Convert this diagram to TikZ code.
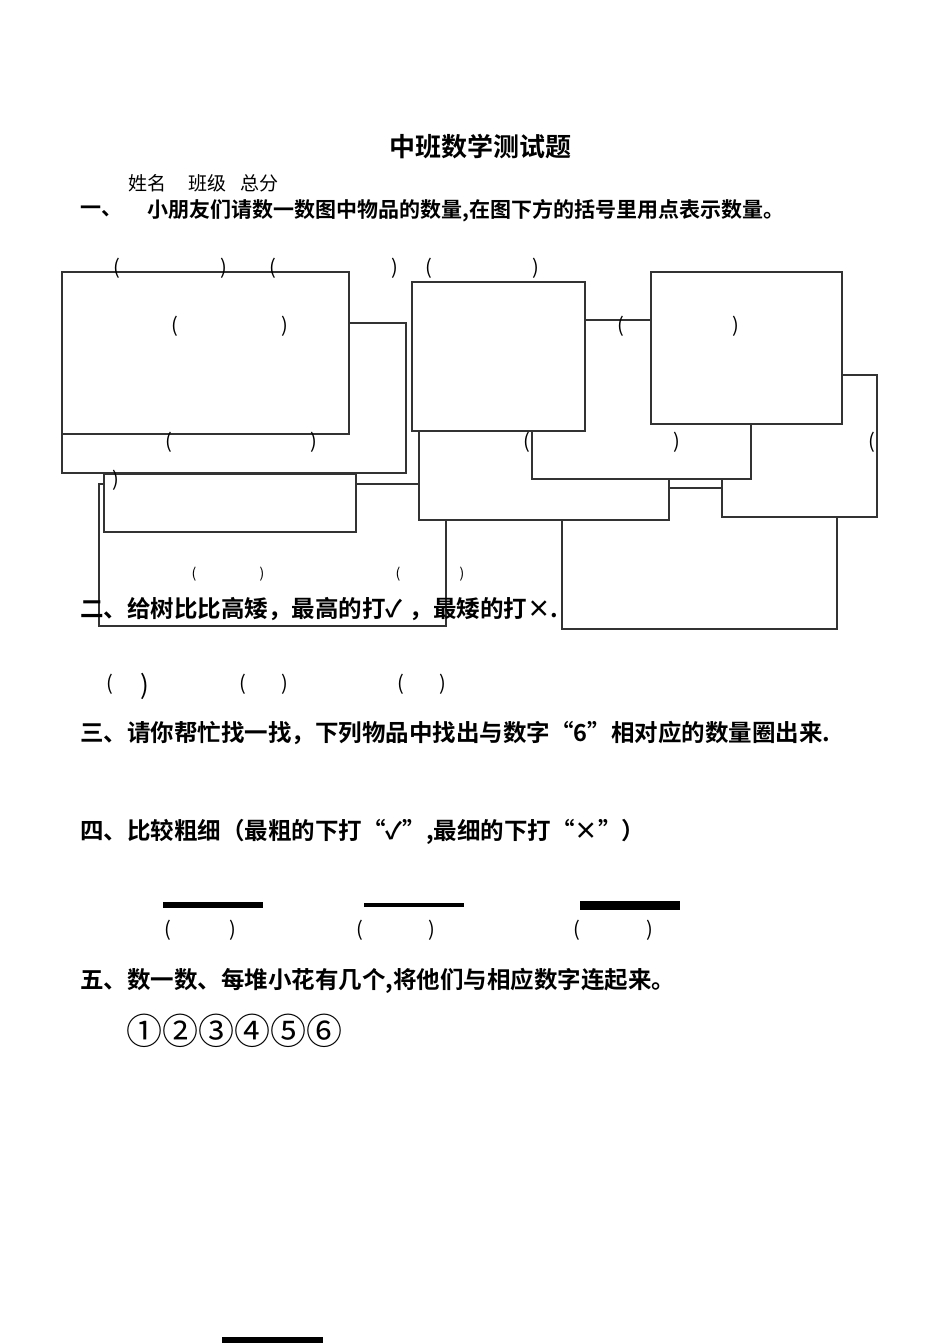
\documentclass[tikz,border=0pt]{standalone}
\usepackage{fontspec}
\setmainfont{Noto Sans CJK SC}
\newfontfamily\cjkb{Noto Sans CJK SC Bold}
\begin{document}
\begin{tikzpicture}[x=1pt,y=-1pt,
  box/.style={draw=black!80,line width=1.2pt,fill=white},
  par/.style={inner sep=0pt,font=\fontsize{20}{20}\selectfont},
  spar/.style={inner sep=0pt,font=\fontsize{14}{14}\selectfont},
  line/.style={anchor=west,inner sep=0pt,font=\cjkb\fontsize{23.5}{23.5}\selectfont}]
\useasboundingbox[fill=white] (0,0) rectangle (950,1344);
% left group
\draw[box] (99,484) rectangle (446,626);
\draw[box] (104,474) rectangle (356,532);
\draw[box] (62,323) rectangle (406,473);
\draw[box] (62,272) rectangle (349,434);
% right group
\draw[box] (562,488) rectangle (837,629);
\draw[box] (419,320) rectangle (669,520);
\draw[box] (722,375) rectangle (877,517);
\fill[white] (532,400) rectangle (751,479);
\draw[draw=black!80,line width=1.2pt] (532,400) -- (532,479) -- (751,479) -- (751,400);
\draw[box] (412,282) rectangle (585,431);
\draw[box] (651,272) rectangle (842,424);
% texts
\node[inner sep=0pt,font=\cjkb\fontsize{26}{26}\selectfont] (title) at (480,147) {中班数学测试题};
\node[anchor=west,inner sep=0pt,font=\fontsize{19}{19}\selectfont] (name) at (128,183) {姓名\hspace{1.2em}班级\hspace{0.7em}总分};
\node[line,font=\cjkb\fontsize{21}{21}\selectfont] (q1a) at (80,211) {一、};
\node[line,font=\cjkb\fontsize{21}{21}\selectfont] (q1) at (147,211) {小朋友们请数一数图中物品的数量,在图下方的括号里用点表示数量。};
\foreach \x/\y/\c [count=\i] in {117/268/(,224/268/),273/268/(,395/268/),429/268/(,536/268/),
  175/326/(,285/326/),621/326/(,736/326/),169/442/(,314/442/),527/442/(,677/442/),872/442/(,116/480/),
  110/684/(,243/684/(,285/684/),401/684/(,443/684/),168/930/(,233/930/),360/930/(,432/930/),577/930/(,650/930/)}
  \node[par] (p\i) at (\x,\y) {\c};
\node[par,font=\fontsize{26}{26}\selectfont] (pbig) at (145,686) {)};
\foreach \x/\c [count=\i] in {194/(,262/),398/(,462/)}
  \node[spar] (s\i) at (\x,574) {\c};
\node[line] (q2) at (80,609) {二、给树比比高矮，最高的打✓\hspace{0.3em}，最矮的打×.};
\node[line] (q3) at (80,733) {三、请你帮忙找一找，下列物品中找出与数字“6”相对应的数量圈出来.};
\node[line] (q4) at (80,832) {四、比较粗细（最粗的下打“✓”,最细的下打“×”）};
\node[line] (q5) at (80,981) {五、数一数、每堆小花有几个,将他们与相应数字连起来。};
\node[anchor=west,inner sep=0pt,font=\fontsize{36}{36}\selectfont] (nums) at (126,1031) {①②③④⑤⑥};
% bars
\coordinate (b1a) at (163,905); \coordinate (b1b) at (263,905);
\coordinate (b2a) at (364,905); \coordinate (b2b) at (464,905);
\coordinate (b3a) at (580,905); \coordinate (b3b) at (680,905);
\coordinate (b4a) at (222,1340); \coordinate (b4b) at (323,1340);
\draw[line width=6pt] (b1a) -- (b1b);
\draw[line width=4pt] (b2a) -- (b2b);
\draw[line width=9pt] (b3a) -- (b3b);
\draw[line width=6pt] (b4a) -- (b4b);
\end{tikzpicture}
\end{document}
